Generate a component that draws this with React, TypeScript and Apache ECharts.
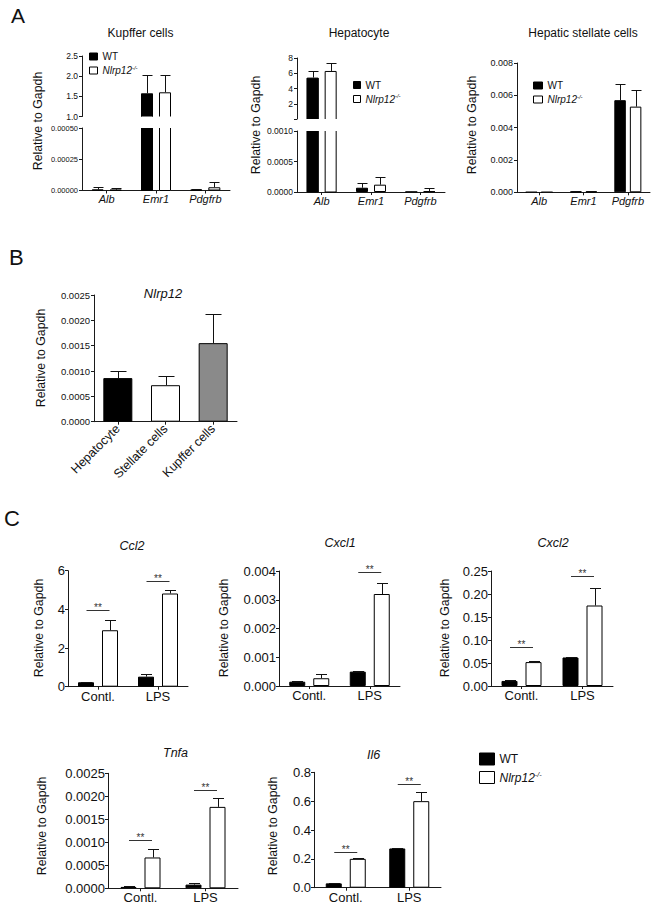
import React, { useEffect, useRef } from 'react';
import * as echarts from 'echarts';

const FONT = '"Liberation Sans", Arial, Helvetica, sans-serif';
const WT = 'WT';
const KO = 'Nlrp12-/-';

// ---------- Panel A ----------
const geneCats = ['Alb', 'Emr1', 'Pdgfrb'];

const kupfferWT = [0.000008, 1.575, 0.000005];
const kupfferWTsd = [0.000022, 0.45, 0.000005];
const kupfferKO = [0.000006, 1.6, 0.000026];
const kupfferKOsd = [0.000014, 0.43, 0.00004];
const kupfferUpperAxis = [1.0, 2.5, 0.5];
const kupfferLowerAxis = [0, 0.0005, 0.00025];

const hepWT = [5.43, 0.00007, 0.000003];
const hepWTsd = [0.92, 0.00008, 0.000003];
const hepKO = [6.3, 0.00012, 0.000012];
const hepKOsd = [1.1, 0.00012, 0.00006];
const hepUpperAxis = [0, 8, 2];
const hepLowerAxis = [0, 0.001, 0.0005];

const hscWT = [0.00001, 0.00005, 0.0057];
const hscWTsd = [0.00001, 0.00003, 0.00098];
const hscKO = [0.00001, 0.00005, 0.0053];
const hscKOsd = [0.00001, 0.00003, 0.001];
const hscAxis = [0, 0.008, 0.002];

// ---------- Panel B ----------
const cellCats = ['Hepatocyte', 'Stellate cells', 'Kupffer cells'];
const nlrp12Expr = [0.00086, 0.00072, 0.00155];
const nlrp12Sd = [0.00015, 0.00019, 0.00058];
const nlrp12Axis = [0, 0.0025, 0.0005];
const cellColors = ['#000000', '#ffffff', '#8a8a8a'];

// ---------- Panel C ----------
const trtCats = ['Contl.', 'LPS'];

const ccl2WT = [0.23, 0.52];
const ccl2WTsd = [0.03, 0.12];
const ccl2KO = [2.92, 4.82];
const ccl2KOsd = [0.52, 0.2];
const ccl2Sig = [3.97, 5.48];
const ccl2Axis = [0, 6, 2];

const cxcl1WT = [0.00015, 0.0005];
const cxcl1WTsd = [0.00001, 0.00002];
const cxcl1KO = [0.00027, 0.0032];
const cxcl1KOsd = [0.00015, 0.0004];
const cxcl1Sig = [null, 0.00395];
const cxcl1Axis = [0, 0.004, 0.001];

const cxcl2WT = [0.011, 0.062];
const cxcl2WTsd = [0.001, 0.002];
const cxcl2KO = [0.052, 0.175];
const cxcl2KOsd = [0.002, 0.037];
const cxcl2Sig = [0.085, 0.24];
const cxcl2Axis = [0, 0.25, 0.05];

const tnfaWT = [0.00003, 0.00008];
const tnfaWTsd = [0.00001, 0.00004];
const tnfaKO = [0.00067, 0.00177];
const tnfaKOsd = [0.00018, 0.0002];
const tnfaSig = [0.00105, 0.00214];
const tnfaAxis = [0, 0.0025, 0.0005];

const il6WT = [0.03, 0.272];
const il6WTsd = [0.003, 0.005];
const il6KO = [0.2, 0.6];
const il6KOsd = [0.003, 0.06];
const il6Sig = [0.25, 0.72];
const il6Axis = [0, 0.8, 0.2];

// ---------- helpers ----------
const WT_STYLE = { color: '#000000', borderColor: '#000000', borderWidth: 1 };
const KO_STYLE = { color: '#ffffff', borderColor: '#000000', borderWidth: 1 };
const AXIS_LINE = { color: '#1a1a1a', width: 1 };

const errRender = (off: number, cap: number) => (_params: any, api: any) => {
  const c = api.value(0);
  const m = api.value(1);
  const t = api.value(2);
  const s = api.value(3);
  const p0 = api.coord([c, m]);
  const p1 = api.coord([c, t]);
  const x = Math.round(p0[0] + s * off) + 0.5;
  const yt = Math.round(p1[1]) + 0.5;
  return {
    type: 'group',
    children: [
      { type: 'line', shape: { x1: x, y1: p0[1], x2: x, y2: yt }, style: { stroke: '#111', lineWidth: 1 } },
      { type: 'line', shape: { x1: x - cap, y1: yt, x2: x + cap, y2: yt }, style: { stroke: '#111', lineWidth: 1 } },
    ],
  };
};

// bar that crosses an axis break: open at the break side
const brokenBarRender = (off: number, w: number, fill: string, mode: 'upper' | 'lower') => (params: any, api: any) => {
  const cs = params.coordSys;
  const c = api.value(0);
  const v = api.value(1);
  const s = api.value(2);
  const p = api.coord([c, v]);
  const cx = p[0] + s * off;
  const x0 = cx - w / 2 + 0.5;
  const x1 = cx + w / 2 - 0.5;
  const yTop = mode === 'upper' ? Math.max(p[1], cs.y) + 0.5 : cs.y;
  const yBot = cs.y + cs.height;
  const pts =
    mode === 'upper'
      ? [[x0, yBot], [x0, yTop], [x1, yTop], [x1, yBot]]
      : [[x0, yTop], [x0, yBot], [x1, yBot], [x1, yTop]];
  return {
    type: 'group',
    children: [
      { type: 'rect', shape: { x: cx - w / 2, y: yTop, width: w, height: yBot - yTop }, style: { fill, stroke: null } },
      { type: 'polyline', shape: { points: pts }, style: { stroke: '#000', lineWidth: 1, fill: null } },
    ],
  };
};

const sigRender = (half: number) => (_params: any, api: any) => {
  const p = api.coord([api.value(0), api.value(1)]);
  const y = Math.round(p[1]) + 0.5;
  return {
    type: 'group',
    children: [
      { type: 'line', shape: { x1: p[0] - half, y1: y, x2: p[0] + half, y2: y }, style: { stroke: '#333', lineWidth: 1 } },
      {
        type: 'text',
        x: p[0],
        y: y - 3,
        style: { text: '**', fontSize: 10, fontFamily: FONT, fill: '#333', align: 'center', verticalAlign: 'middle' },
      },
    ],
  };
};

function buildOption() {
  const grid: any[] = [];
  const xAxis: any[] = [];
  const yAxis: any[] = [];
  const series: any[] = [];
  const graphic: any[] = [];

  function addGrid(p: any) {
    const i = grid.length;
    grid.push({ left: p.left, top: p.top, width: p.width, height: p.height });
    xAxis.push({
      type: 'category',
      gridIndex: i,
      data: p.cats,
      show: p.showX !== false,
      axisLine: { show: true, onZero: false, lineStyle: AXIS_LINE },
      axisTick: { show: true, alignWithLabel: true, length: 3, lineStyle: AXIS_LINE },
      axisLabel: {
        show: true,
        interval: 0,
        fontSize: p.xFont ?? 11,
        fontStyle: p.xItalic ? 'italic' : 'normal',
        fontFamily: FONT,
        color: '#111',
        margin: p.xMargin ?? 3,
        rotate: p.rotate ?? 0,
      },
      splitLine: { show: false },
    });
    yAxis.push({
      type: 'value',
      gridIndex: i,
      min: p.range[0],
      max: p.range[1],
      interval: p.range[2],
      axisLine: { show: true, lineStyle: AXIS_LINE },
      axisTick: { show: true, length: 3, lineStyle: AXIS_LINE },
      axisLabel: {
        fontSize: p.yFont,
        fontFamily: FONT,
        color: '#111',
        margin: p.yMargin ?? 4,
        formatter: (v: number) => (p.hideZero && v === 0 ? '' : v.toFixed(p.dec)),
      },
      splitLine: { show: false },
    });
    return i;
  }

  function addBars(i: number, name: string, vals: any[], style: any, barWidth: number, barGap: string) {
    series.push({
      type: 'bar',
      name,
      xAxisIndex: i,
      yAxisIndex: i,
      data: vals,
      barWidth,
      barGap,
      itemStyle: style,
      clip: true,
      z: 2,
    });
  }

  function addErr(i: number, means: number[], sds: number[], slot: number, off: number, cap: number, keep: (m: number, t: number) => boolean = () => true) {
    const data = means.map((m, c) => [c, m, m + sds[c], slot]).filter((d) => keep(d[1], d[2]));
    series.push({
      type: 'custom',
      xAxisIndex: i,
      yAxisIndex: i,
      data,
      encode: { x: 0, y: [1, 2] },
      renderItem: errRender(off, cap),
      z: 3,
      silent: true,
    });
  }

  function addBrokenBars(i: number, vals: number[], brk: number, slot: number, off: number, w: number, fill: string, mode: 'upper' | 'lower') {
    const data = vals.map((v, c) => [c, v, slot]).filter((d) => d[1] > brk);
    series.push({
      type: 'custom',
      xAxisIndex: i,
      yAxisIndex: i,
      data,
      encode: { x: 0, y: 1 },
      renderItem: brokenBarRender(off, w, fill, mode),
      z: 2,
      silent: true,
    });
  }

  function addSig(i: number, levels: (number | null)[], half: number) {
    const data = levels.map((l, c) => (l == null ? null : [c, l])).filter((d) => d !== null);
    series.push({
      type: 'custom',
      xAxisIndex: i,
      yAxisIndex: i,
      data,
      encode: { x: 0, y: 1 },
      renderItem: sigRender(half),
      z: 3,
      silent: true,
    });
  }

  const txt = (x: number, y: number, text: string, size: number, o: any = {}) => ({
    type: 'text',
    x,
    y,
    rotation: o.rot ?? 0,
    silent: true,
    style: {
      text,
      fontSize: size,
      fontFamily: FONT,
      fontStyle: o.italic ? 'italic' : 'normal',
      fill: '#111',
      align: o.align ?? 'center',
      verticalAlign: 'middle',
    },
  });

  // ----- broken-axis paired chart -----
  function brokenPair(cfg: any) {
    const brk = cfg.lower[1];
    const u = addGrid({ left: cfg.left, top: cfg.upTop, width: cfg.width, height: cfg.upH, cats: geneCats, range: cfg.upper, dec: cfg.upDec, yFont: cfg.upFont, showX: false, hideZero: cfg.hideZero });
    const l = addGrid({ left: cfg.left, top: cfg.loTop, width: cfg.width, height: cfg.loH, cats: geneCats, range: cfg.lower, dec: cfg.loDec, yFont: cfg.loFont, xFont: 11, xItalic: true });
    const off = 9;
    const bw = 12;
    const below = (a: number[]) => a.map((v) => (v > brk ? '-' : v));
    // upper segment
    addBrokenBars(u, cfg.wt, brk, -1, off, bw, '#000000', 'upper');
    addBrokenBars(u, cfg.ko, brk, 1, off, bw, '#ffffff', 'upper');
    addErr(u, cfg.wt, cfg.wtSd, -1, off, 5, (m) => m > brk);
    addErr(u, cfg.ko, cfg.koSd, 1, off, 5, (m) => m > brk);
    // lower segment
    addBars(l, WT, below(cfg.wt), WT_STYLE, bw, '50%');
    addBars(l, KO, below(cfg.ko), KO_STYLE, bw, '50%');
    addBrokenBars(l, cfg.wt, brk, -1, off, bw, '#000000', 'lower');
    addBrokenBars(l, cfg.ko, brk, 1, off, bw, '#ffffff', 'lower');
    addErr(l, cfg.wt, cfg.wtSd, -1, off, 5, (_m, t) => t <= brk);
    addErr(l, cfg.ko, cfg.koSd, 1, off, 5, (_m, t) => t <= brk);
  }

  brokenPair({
    left: 82, width: 148, upTop: 56, upH: 60.5, loTop: 128, loH: 62.5,
    upper: kupfferUpperAxis, lower: kupfferLowerAxis, upDec: 1, loDec: 5, upFont: 8.5, loFont: 7.5,
    wt: kupfferWT, wtSd: kupfferWTsd, ko: kupfferKO, koSd: kupfferKOsd,
  });
  brokenPair({
    left: 297, width: 148, upTop: 58, upH: 61, loTop: 131, loH: 61,
    upper: hepUpperAxis, lower: hepLowerAxis, upDec: 0, loDec: 4, upFont: 8.5, loFont: 8.5, hideZero: true,
    wt: hepWT, wtSd: hepWTsd, ko: hepKO, koSd: hepKOsd,
  });

  const hsc = addGrid({ left: 517, top: 63, width: 133, height: 129.3, cats: geneCats, range: hscAxis, dec: 3, yFont: 9, xFont: 11, xItalic: true });
  addBars(hsc, WT, hscWT, WT_STYLE, 11.5, '35%');
  addBars(hsc, KO, hscKO, KO_STYLE, 11.5, '35%');
  addErr(hsc, hscWT, hscWTsd, -1, 7.76, 5);
  addErr(hsc, hscKO, hscKOsd, 1, 7.76, 5);

  // ----- Panel B -----
  const b = addGrid({ left: 94, top: 295, width: 143, height: 126.7, cats: cellCats, range: nlrp12Axis, dec: 4, yFont: 9.5, xFont: 12.5, rotate: 45, xMargin: 5 });
  series.push({
    type: 'bar',
    name: 'Nlrp12',
    xAxisIndex: b,
    yAxisIndex: b,
    barWidth: 29,
    data: nlrp12Expr.map((v, k) => ({ value: v, itemStyle: { color: cellColors[k], borderColor: '#000', borderWidth: 1 } })),
    z: 2,
  });
  addErr(b, nlrp12Expr, nlrp12Sd, 0, 0, 8);

  // ----- Panel C -----
  const cPanels = [
    { left: 68, top: 570.7, width: 120, height: 116, range: ccl2Axis, dec: 0, wt: ccl2WT, wtSd: ccl2WTsd, ko: ccl2KO, koSd: ccl2KOsd, sig: ccl2Sig },
    { left: 279, top: 571, width: 121, height: 115, range: cxcl1Axis, dec: 3, wt: cxcl1WT, wtSd: cxcl1WTsd, ko: cxcl1KO, koSd: cxcl1KOsd, sig: cxcl1Sig },
    { left: 491, top: 571, width: 122, height: 115, range: cxcl2Axis, dec: 2, wt: cxcl2WT, wtSd: cxcl2WTsd, ko: cxcl2KO, koSd: cxcl2KOsd, sig: cxcl2Sig },
    { left: 108, top: 773.3, width: 130, height: 115, range: tnfaAxis, dec: 4, wt: tnfaWT, wtSd: tnfaWTsd, ko: tnfaKO, koSd: tnfaKOsd, sig: tnfaSig },
    { left: 314, top: 772.3, width: 127, height: 115.4, range: il6Axis, dec: 1, wt: il6WT, wtSd: il6WTsd, ko: il6KO, koSd: il6KOsd, sig: il6Sig },
  ];
  cPanels.forEach((p) => {
    const i = addGrid({ left: p.left, top: p.top, width: p.width, height: p.height, cats: trtCats, range: p.range, dec: p.dec, yFont: 13, xFont: 13, yMargin: 3 });
    addBars(i, WT, p.wt, WT_STYLE, 16, '50%');
    addBars(i, KO, p.ko, KO_STYLE, 16, '50%');
    addErr(i, p.wt, p.wtSd, -1, 12, 5.5);
    addErr(i, p.ko, p.koSd, 1, 12, 5.5);
    addSig(i, p.sig as any, 11.5);
  });

  // ----- texts -----
  graphic.push(txt(11, 15.5, 'A', 21, { align: 'left' }));
  graphic.push(txt(9, 257, 'B', 22, { align: 'left' }));
  graphic.push(txt(4, 518.5, 'C', 22, { align: 'left' }));

  graphic.push(txt(140.5, 33, 'Kupffer cells', 12));
  graphic.push(txt(359, 33, 'Hepatocyte', 12));
  graphic.push(txt(583, 33, 'Hepatic stellate cells', 12));
  graphic.push(txt(163, 293.5, 'Nlrp12', 13, { italic: true }));
  graphic.push(txt(132, 546, 'Ccl2', 12.5, { italic: true }));
  graphic.push(txt(340, 543, 'Cxcl1', 12.5, { italic: true }));
  graphic.push(txt(553, 543, 'Cxcl2', 12.5, { italic: true }));
  graphic.push(txt(175.5, 753, 'Tnfa', 12.5, { italic: true }));
  graphic.push(txt(373.5, 755, 'Il6', 12.5, { italic: true }));

  const yTitle = 'Relative to Gapdh';
  [
    [38, 121], [256, 125], [472, 125], [41, 358],
    [39, 628], [223.5, 628], [445, 628], [42, 826], [273, 826],
  ].forEach(([x, y]) => graphic.push(txt(x, y, yTitle, 12.3, { rot: Math.PI / 2 })));

  const mkLegend = (left: number, top: number, w: number, h: number, fs: number, lh: number, gap: number) => ({
    left,
    top,
    orient: 'vertical',
    padding: 0,
    itemWidth: w,
    itemHeight: h,
    itemGap: gap,
    icon: 'rect',
    selectedMode: false,
    data: [
      { name: WT, itemStyle: WT_STYLE },
      { name: KO, itemStyle: KO_STYLE },
    ],
    formatter: (n: string) => (n === WT ? '{n|WT}' : '{i|Nlrp12}{s|-/-}'),
    textStyle: {
      fontSize: fs,
      fontFamily: FONT,
      color: '#111',
      lineHeight: lh,
      rich: {
        n: { fontSize: fs, fontFamily: FONT, color: '#111', lineHeight: lh },
        i: { fontSize: fs, fontFamily: FONT, fontStyle: 'italic', color: '#111', lineHeight: lh },
        s: { fontSize: fs * 0.6, fontFamily: FONT, fontStyle: 'italic', color: '#111', lineHeight: fs * 0.6, verticalAlign: 'top' },
      },
    },
  });

  const legend = [
    mkLegend(89, 50.5, 8, 7, 10, 12, 2),
    mkLegend(353, 79, 7, 7, 10, 12, 2),
    mkLegend(533, 79.5, 9, 7, 10, 12, 2),
    mkLegend(479, 752, 15, 12, 12, 14, 4.5),
  ];

  return {
    animation: false,
    backgroundColor: '#ffffff',
    textStyle: { fontFamily: FONT },
    grid,
    xAxis,
    yAxis,
    series,
    legend,
    graphic,
  };
}

export default function App() {
  const ref = useRef<HTMLDivElement>(null);
  useEffect(() => {
    if (!ref.current) return;
    const chart = echarts.init(ref.current, null, { renderer: 'svg' });
    chart.setOption(buildOption() as any);
    return () => chart.dispose();
  }, []);
  return (
    <div
      ref={ref}
      style={{ position: 'absolute', left: 0, top: 0, width: 656, height: 909, background: '#ffffff' }}
    />
  );
}
